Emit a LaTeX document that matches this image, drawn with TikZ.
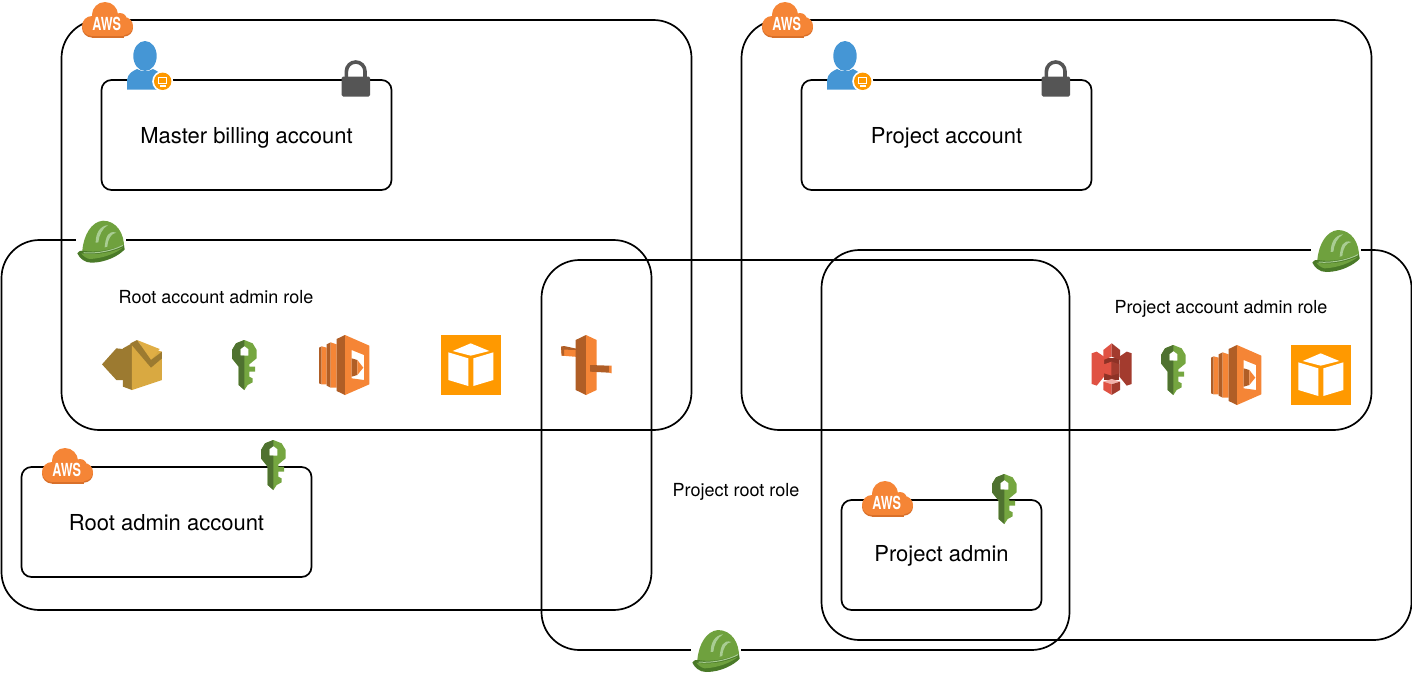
\documentclass[tikz,border=0pt]{standalone}
\usepackage{fontspec}
\setmainfont{TeX Gyre Heros}

\definecolor{awsorange}{HTML}{F58536}
\definecolor{awsdark}{HTML}{B05E26}
\definecolor{cloudedge}{HTML}{D9702A}
\definecolor{keylight}{HTML}{75A640}
\definecolor{keydark}{HTML}{4F7230}
\definecolor{hatlight}{HTML}{6FA13E}
\definecolor{hatdark}{HTML}{4A7A28}
\definecolor{hatpale}{HTML}{A9CD93}
\definecolor{mailfront}{HTML}{D9A941}
\definecolor{maildark}{HTML}{9C7A30}
\definecolor{mailtop}{HTML}{E0AE45}
\definecolor{bucketlight}{HTML}{E05243}
\definecolor{bucketdark}{HTML}{A33B2E}
\definecolor{bucketcore}{HTML}{8E3226}
\definecolor{bucketpale}{HTML}{F2B0A9}
\definecolor{userblue}{HTML}{4596D5}
\definecolor{lockgrey}{HTML}{555555}
\definecolor{boxamber}{HTML}{FF9900}

\tikzset{
  awscloud/.pic={
    \begin{scope}[yshift=-1.6pt]
      \fill[cloudedge] (10,24) circle (10) (23,13) circle (13) (38,18) circle (7) (42,24) circle (9);
      \fill[cloudedge] (10,20) rectangle (42,34);
    \end{scope}
    \fill[awsorange] (10,24) circle (10) (23,13) circle (13) (38,18) circle (7) (42,24) circle (9);
    \fill[awsorange] (10,20) rectangle (42,34);
    \node[text=white,font=\fontsize{18}{18}\selectfont\bfseries,inner sep=0] (-label) at (24.7,21.7) {\scalebox{.7}[1]{AWS}};
  },
  usericon/.pic={
    \fill[userblue] (0,0) ellipse (11.7 and 15);
    \fill[userblue] (-18,33.5) -- (-18,24) .. controls (-17,17) and (-12,15) .. (-8,13)
      .. controls (-3,16) and (3,16) .. (8,13) .. controls (12,15) and (17,17) .. (18,24) -- (18,33.5) -- cycle;
    \fill[white] (17.7,25.3) circle (10.5);
    \fill[boxamber] (17.7,25.3) circle (8.7);
    \draw[white,line width=1.3pt] (13.7,21.5) rectangle (21.7,27.5);
    \draw[white,line width=1.3pt] (14.5,30) -- (21,30);
  },
  lockicon/.pic={
    \draw[lockgrey,line width=3.6pt] (-9.3,18) -- (-9.3,11.3) arc (180:360:9.3) -- (9.3,18);
    \fill[lockgrey,rounded corners=1.5pt] (-14,16.5) rectangle (14.3,36.5);
  },
  keyicon/.pic={
    \begin{scope}[x=.3333pt,y=-.3333pt,shift={(-453,-45)}]
      \fill[keylight,even odd rule] (490,45) -- (515,55) -- (527,75) -- (527,100) -- (505,118) -- (505,125)
        -- (522,125) -- (522,140) -- (505,140) -- (505,155) -- (515,160) -- (515,172) -- (500,180) -- (490,195)
        -- (473,180) -- (473,125) -- (453,100) -- (453,75) -- (465,55) -- cycle
        (478,72) -- (490,63) -- (502,72) -- (502,92) -- (478,92) -- cycle;
      \fill[keydark,even odd rule] (490,45) -- (490,63) -- (478,72) -- (478,92) -- (490,92) -- (490,195)
        -- (473,180) -- (473,125) -- (453,100) -- (453,75) -- (465,55) -- cycle;
    \end{scope}
  },
  lambdaicon/.pic={
    \begin{scope}[x=.3333pt,y=-.3333pt,shift={(-717,-30)}]
      \fill[awsdark] (717,68) -- (725,64) -- (725,178) -- (717,175) -- cycle;
      \fill[awsorange] (725,64) -- (740,68) -- (740,178) -- (725,178) -- cycle;
      \fill[awsdark] (740,58) -- (752,52) -- (752,188) -- (740,182) -- cycle;
      \fill[awsorange] (752,52) -- (770,58) -- (770,188) -- (752,188) -- cycle;
      \fill[awsdark] (770,42) -- (795,30) -- (795,210) -- (770,198) -- cycle;
      \fill[awsorange,even odd rule] (795,30) -- (868,62) -- (868,178) -- (795,210) -- cycle
        (815,75) -- (852,90) -- (852,165) -- (815,160) -- cycle;
      \fill[awsdark] (815,100) -- (832,105) -- (832,150) -- (815,155) -- cycle;
      \fill[awsorange] (832,105) -- (850,128) -- (832,150) -- cycle;
    \end{scope}
  },
  cubeicon/.pic={
    \fill[boxamber] (0,0) rectangle (60,60);
    \begin{scope}[x=.3333pt,y=-.3333pt,shift={(-33,-30)}]
      \fill[white] (122,55) -- (178,78) -- (122,92) -- (68,78) -- cycle;
      \fill[white] (55,82) -- (115,100) -- (115,183) -- (55,165) -- cycle;
      \fill[white] (130,100) -- (190,82) -- (190,165) -- (130,183) -- cycle;
    \end{scope}
  },
  forkicon/.pic={
    \begin{scope}[x=.3333pt,y=-.3333pt,shift={(-393,-30)}]
      \fill[awsorange] (393,65) -- (458,75) -- (458,97) -- (395,92) -- cycle;
      \fill[awsdark] (393,65) -- (402,63) -- (458,75) -- (402,74) -- (402,92) -- (395,92) -- cycle;
      \fill[awsdark] (437,45) -- (468,30) -- (468,210) -- (437,195) -- cycle;
      \fill[awsorange] (468,30) -- (500,45) -- (500,195) -- (468,210) -- cycle;
      \fill[awsdark] (480,120) -- (537,122) -- (537,143) -- (480,140) -- cycle;
      \fill[awsorange] (537,122) -- (545,122) -- (545,145) -- (537,143) -- cycle;
    \end{scope}
  },
  mailicon/.pic={
    \begin{scope}[x=.3333pt,y=-.3333pt,shift={(-65,-45)}]
      \fill[maildark] (65,118) -- (108,70) -- (128,72) -- (128,165) -- (108,165) -- cycle;
      \fill[maildark] (128,70) -- (155,55) -- (155,195) -- (128,185) -- cycle;
      \fill[mailfront] (155,55) -- (245,80) -- (245,165) -- (155,195) -- cycle;
      \fill[mailtop] (170,45) -- (238,72) -- (212,105) -- cycle;
      \fill[maildark] (150,55) -- (170,45) -- (212,105) -- (245,80) -- (245,100) -- (212,128) -- cycle;
    \end{scope}
  },
  bucketicon/.pic={
    \begin{scope}[x=.3333pt,y=-.3333pt,shift={(-35,-25)}]
      \fill[bucketcore] (72,70) rectangle (118,135);
      \fill[bucketlight] (35,55) -- (50,50) -- (72,65) -- (72,125) -- (50,152) -- (35,147) -- cycle;
      \fill[bucketdark] (155,55) -- (140,50) -- (118,65) -- (118,125) -- (140,152) -- (155,147) -- cycle;
      \fill[bucketlight] (70,45) -- (95,25) -- (95,65) -- (70,75) -- cycle;
      \fill[bucketdark] (95,25) -- (120,45) -- (120,75) -- (95,65) -- cycle;
      \fill[bucketlight] (72,88) -- (95,80) -- (95,122) -- (72,115) -- cycle;
      \fill[bucketdark] (95,80) -- (118,88) -- (118,115) -- (95,122) -- cycle;
      \fill[bucketpale] (70,140) -- (95,132) -- (120,140) -- (95,148) -- cycle;
      \fill[bucketlight] (70,140) -- (95,148) -- (95,180) -- (70,165) -- cycle;
      \fill[bucketdark] (120,140) -- (95,148) -- (95,180) -- (120,165) -- cycle;
    \end{scope}
  },
  hardhat/.pic={
    \fill[white] (-1,0) rectangle (49,44);
    \begin{scope}[x=.3333pt,y=-.3333pt,shift={(-52,-32)}]
      \fill[hatlight] (68,122) .. controls (72,75) and (95,35) .. (130,32)
        .. controls (170,32) and (195,70) .. (193,115) -- (120,135) -- cycle;
      \fill[hatdark] (53,130) .. controls (60,120) and (66,122) .. (70,122)
        .. controls (110,130) and (160,118) .. (193,105) -- (195,118)
        .. controls (180,135) and (140,158) .. (95,158) .. controls (75,158) and (60,145) .. (53,130) -- cycle;
      \fill[hatlight] (65,130) .. controls (110,138) and (160,125) .. (190,112)
        .. controls (170,130) and (130,145) .. (90,147) .. controls (80,145) and (70,138) .. (65,130) -- cycle;
      \draw[hatpale,line width=1pt] (72,128) .. controls (110,132) and (160,122) .. (190,106);
      \fill[hatpale] (108,98) .. controls (108,70) and (120,48) .. (145,45) .. controls (128,55) and (118,75) .. (116,97) -- cycle;
      \fill[hatpale] (135,112) .. controls (138,80) and (145,60) .. (170,68) .. controls (155,70) and (145,85) .. (143,110) -- cycle;
    \end{scope}
  }
}

\begin{document}
\begin{tikzpicture}[x=1pt,y=-1pt,
					panel/.style={draw,line width=1.7pt,rounded corners=38pt,anchor=north west,outer sep=0pt,inner sep=0pt,xshift=.5pt},
					account/.style={draw,line width=1.7pt,rounded corners=10pt,anchor=north west,outer sep=0pt,inner sep=0pt,xshift=.5pt,minimum height=110pt,font=\fontsize{22}{26}\selectfont,text height=17pt,text depth=0pt},
					rolename/.style={font=\fontsize{18}{21}\selectfont,text height=13.4pt,text depth=0pt}]

  \useasboundingbox (0,0) rectangle (1412,675);

  % groups
  \node[panel,minimum width=630pt,minimum height=410pt] (masterGroup) at (61,20) {};
  \node[panel,minimum width=650pt,minimum height=370pt] (rootRole) at (1,240) {};
  \node[panel,minimum width=528pt,minimum height=390pt] (projectRootRole) at (541,260) {};
  \node[panel,minimum width=630pt,minimum height=410pt] (projectGroup) at (741,20) {};
  \node[panel,minimum width=590pt,minimum height=390pt] (projectRole) at (821,250) {};

  % accounts
  \node[account,minimum width=290pt] (master) at (101,80) {Master billing account};
  \node[account,minimum width=290pt] (rootAdmin) at (21,467) {Root admin account};
  \node[account,minimum width=290pt] (project) at (801,80) {Project account};
  \node[account,minimum width=200pt,text height=12pt] (projectAdmin) at (841,500) {Project admin};

  % role names
  \node[rolename] (rootRoleName) at (216,297) {Root account admin role};
  \node[rolename] (projectRoleName) at (1221,307) {Project account admin role};
  \node[rolename] (projectRootName) at (736,490) {Project root role};

  % icons
  \pic (cloudA) at (82,2) {awscloud};
  \pic (cloudB) at (762,2) {awscloud};
  \pic (cloudC) at (42,448) {awscloud};
  \pic (cloudD) at (862,481) {awscloud};
  \pic (userA) at (145,56) {usericon};
  \pic (userB) at (845,56) {usericon};
  \pic (lockA) at (355.7,60) {lockicon};
  \pic (lockB) at (1055.7,60) {lockicon};
  \pic (hatA) at (77,220.7) {hardhat};
  \pic (hatB) at (1312,230) {hardhat};
  \pic (hatC) at (692,630) {hardhat};
  \pic (mailA) at (102,340) {mailicon};
  \pic (keyA) at (232,340) {keyicon};
  \pic (lambdaA) at (319,335) {lambdaicon};
  \pic (cubeA) at (441,335) {cubeicon};
  \pic (forkA) at (561,335) {forkicon};
  \pic (bucketA) at (1091.7,343.3) {bucketicon};
  \pic (keyB) at (1161,345) {keyicon};
  \pic (lambdaB) at (1211,345) {lambdaicon};
  \pic (cubeB) at (1291,345) {cubeicon};
  \pic (keyC) at (261,440) {keyicon};
  \pic (keyD) at (992,474) {keyicon};
\end{tikzpicture}
\end{document}
